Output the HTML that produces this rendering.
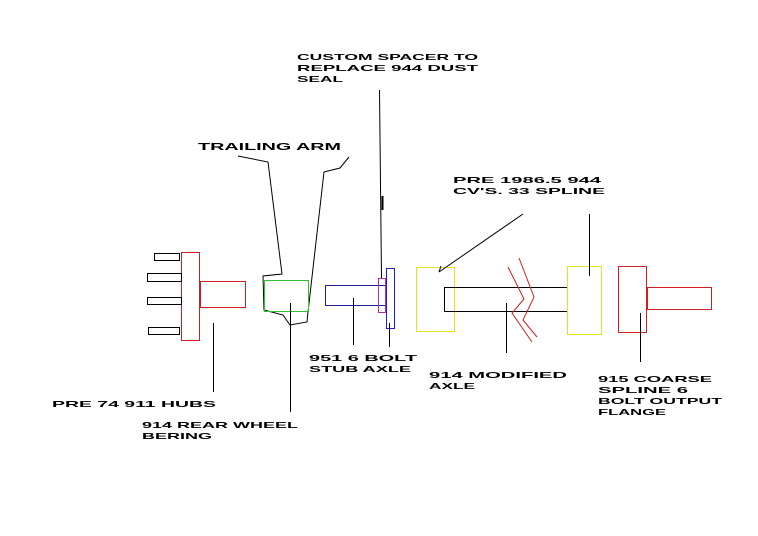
<!DOCTYPE html>
<html><head><meta charset="utf-8"><style>
html,body{margin:0;padding:0;background:#fff;}
svg{display:block;}
text{font-family:"Liberation Sans",sans-serif;font-weight:bold;font-size:8.5px;fill:#000;}
</style></head><body>
<svg width="758" height="536" viewBox="0 0 758 536" xmlns="http://www.w3.org/2000/svg">
<rect width="758" height="536" fill="#fff"/>
<g fill="none" stroke-width="1">
<!-- hub -->
<rect x="181.5" y="252.5" width="18" height="88" stroke="#d02020"/>
<rect x="200.5" y="281.5" width="45" height="26" stroke="#d02020"/>
<rect x="154.5" y="253.5" width="25" height="7" stroke="#000"/>
<rect x="147.5" y="273.5" width="34" height="8" stroke="#000"/>
<rect x="147.5" y="297.5" width="34" height="7" stroke="#000"/>
<rect x="148.5" y="327.5" width="31" height="7" stroke="#000"/>
<!-- trailing arm -->
<polyline points="238,156 268,162 282,274 263,276 264,310 283,315 290,325 307,322 308,312 324,172 340,168 349,157" stroke="#000"/>
<rect x="264.5" y="280.5" width="44" height="31" stroke="#30c030"/>
<!-- stub -->
<rect x="325.5" y="285.5" width="61" height="20" stroke="#202090"/>
<rect x="378.5" y="278.5" width="7" height="34" stroke="#b030b0"/>
<rect x="386.5" y="268.5" width="8" height="60" stroke="#2020c0"/>
<!-- axle -->
<rect x="416.5" y="267.5" width="38" height="64" stroke="#e8e020"/>
<rect x="444.5" y="287.5" width="123" height="24" stroke="#000"/>
<rect x="567.5" y="266.5" width="34" height="68" stroke="#e8e020"/>
<polyline points="508,267 524,299 512,313 532,342" stroke="#d02020"/>
<polyline points="519,258 534,297 523,320 537,337" stroke="#d02020"/>
<!-- flange -->
<rect x="618.5" y="266.5" width="28" height="66" stroke="#d02020"/>
<rect x="647.5" y="287.5" width="64" height="22" stroke="#d02020"/>
<!-- leaders -->
<g stroke="#000">
<line x1="379.5" y1="90" x2="381.5" y2="278"/>
<line x1="382.5" y1="196" x2="382.5" y2="210" stroke-width="2"/>
<line x1="213.5" y1="323" x2="213.5" y2="392"/>
<line x1="290.5" y1="303" x2="290.5" y2="412"/>
<line x1="353.5" y1="298" x2="353.5" y2="345"/>
<line x1="389.5" y1="323" x2="389.5" y2="347"/>
<line x1="523" y1="214" x2="439" y2="272"/>
<line x1="439" y1="272" x2="441" y2="266"/>
<line x1="589.5" y1="214" x2="589.5" y2="276"/>
<line x1="506.5" y1="303" x2="506.5" y2="353"/>
<line x1="640.5" y1="313" x2="640.5" y2="362"/>
</g>
</g>
<text x="297" y="60" textLength="181" lengthAdjust="spacingAndGlyphs">CUSTOM SPACER TO</text>
<text x="297" y="71" textLength="181" lengthAdjust="spacingAndGlyphs">REPLACE 944 DUST</text>
<text x="297" y="82" textLength="46" lengthAdjust="spacingAndGlyphs">SEAL</text>
<text x="198" y="150" textLength="143" lengthAdjust="spacingAndGlyphs" style="font-size:10px">TRAILING  ARM</text>
<text x="453" y="183" textLength="148" lengthAdjust="spacingAndGlyphs">PRE 1986.5 944</text>
<text x="453" y="194" textLength="152" lengthAdjust="spacingAndGlyphs">CV'S. 33 SPLINE</text>
<text x="309" y="361" textLength="108" lengthAdjust="spacingAndGlyphs">951 6 BOLT</text>
<text x="309" y="372" textLength="102" lengthAdjust="spacingAndGlyphs">STUB AXLE</text>
<text x="429" y="378" textLength="138" lengthAdjust="spacingAndGlyphs">914 MODIFIED</text>
<text x="429" y="389" textLength="46" lengthAdjust="spacingAndGlyphs">AXLE</text>
<text x="598" y="382" textLength="114" lengthAdjust="spacingAndGlyphs">915 COARSE</text>
<text x="598" y="393" textLength="90" lengthAdjust="spacingAndGlyphs">SPLINE 6</text>
<text x="598" y="404" textLength="124" lengthAdjust="spacingAndGlyphs">BOLT OUTPUT</text>
<text x="598" y="415" textLength="68" lengthAdjust="spacingAndGlyphs">FLANGE</text>
<text x="52" y="407" textLength="164" lengthAdjust="spacingAndGlyphs">PRE 74 911 HUBS</text>
<text x="142" y="428" textLength="156" lengthAdjust="spacingAndGlyphs">914 REAR WHEEL</text>
<text x="142" y="439" textLength="70" lengthAdjust="spacingAndGlyphs">BERING</text>
</svg>
</body></html>
